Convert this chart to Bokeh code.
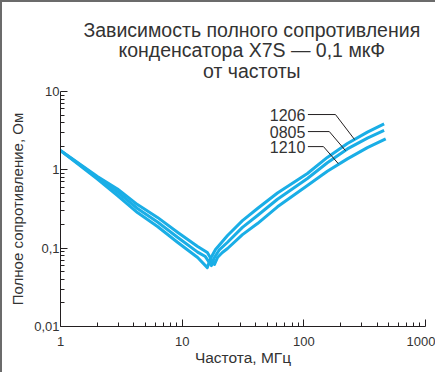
from bokeh.plotting import figure
from bokeh.models import Range1d, FixedTicker
from bokeh.layouts import column
from bokeh.core.properties import value
from bokeh.embed import file_html
from bokeh.resources import INLINE

# ---- data ----
freq_1206 = [1.0, 2.01, 2.94, 4.29, 6.27, 9.15, 13.4, 16.1, 17.1, 18.8, 23.6, 31.3, 41.6, 60.7, 107, 156, 228, 333, 457]
z_1206 = [1.76, 0.763, 0.470, 0.285, 0.189, 0.119, 0.0759, 0.0565, 0.0736, 0.0960, 0.145, 0.225, 0.321, 0.506, 0.897, 1.44, 2.17, 3.03, 3.87]

freq_0805 = [1.0, 2.01, 2.94, 4.29, 6.27, 9.15, 13.4, 15.5, 17.4, 18.4, 20.3, 23.6, 31.3, 41.6, 60.7, 107, 156, 228, 333, 457]
z_0805 = [1.76, 0.798, 0.521, 0.321, 0.216, 0.138, 0.0891, 0.0781, 0.0600, 0.0759, 0.0960, 0.119, 0.184, 0.261, 0.421, 0.774, 1.23, 1.85, 2.54, 3.18]

freq_1210 = [1.0, 2.01, 2.94, 4.29, 6.27, 9.15, 13.4, 16.1, 18.4, 19.5, 21.4, 23.6, 31.3, 41.6, 60.7, 107, 156, 228, 333, 471]
z_1210 = [1.76, 0.821, 0.569, 0.360, 0.247, 0.160, 0.105, 0.0879, 0.0618, 0.0759, 0.0879, 0.0990, 0.149, 0.206, 0.337, 0.630, 0.96, 1.38, 1.92, 2.49]

series_names = ["1206", "0805", "1210"]
label_text_f = [103, 103, 103]
label_z = [5.08, 3.08, 1.98]
leader_start_f = [108, 108, 108]
elbow_f = [182, 162, 145]
tip_f = [261, 220, 192]
tip_z = [2.44, 1.76, 1.20]

x_ticks = [1, 10, 100, 1000]
x_tick_labels = ["1", "10", "100", "1000"]
y_ticks = [0.01, 0.1, 1, 10]
y_tick_labels = ["0,01", "0,1", "1", "10"]

title_lines = ["Зависимость полного сопротивления", "конденсатора X7S — 0,1 мкФ", "от частоты"]
x_label = "Частота, МГц"
y_label = "Полное сопротивление, Ом"

# ---- styling ----
FONT = "Liberation Sans"
INK = "#231f20"
CURVE = "#1aaee6"
FRAME = "2px solid #6b6b6b"
W = 435
TITLE_H = 81

# title strip (a bare figure whose frame is the whole canvas, in pixel units)
t = figure(width=W, height=TITLE_H, x_range=Range1d(0, W), y_range=Range1d(TITLE_H, 0),
           x_axis_location=None, y_axis_location=None,
           output_backend="svg", toolbar_location=None, min_border=0)
t.grid.visible = False
t.outline_line_color = None
t.styles = {"border-top": FRAME, "border-left": FRAME}
t.text(x=[228] * len(title_lines), y=[27.5 + 20.3 * i for i in range(len(title_lines))], text=title_lines,
       text_align="center", text_baseline="middle", text_font=value(FONT),
       text_font_size="19.5px", text_color="#333333")

p = figure(width=W, height=372 - TITLE_H, x_axis_type="log", y_axis_type="log",
           x_range=Range1d(1, 1000), y_range=Range1d(0.01, 10),
           output_backend="svg", toolbar_location=None,
           min_border_left=58, min_border_right=12, min_border_top=91 - TITLE_H, min_border_bottom=46)
p.styles = {"border-left": FRAME}
p.grid.visible = False
p.outline_line_color = None
p.background_fill_color = "white"
p.border_fill_color = "white"

def minors(majors):
    out = []
    for m in majors[:-1]:
        out += [m * k for k in range(2, 10)]
    return out

p.xaxis.ticker = FixedTicker(ticks=x_ticks, minor_ticks=minors(x_ticks))
p.yaxis.ticker = FixedTicker(ticks=y_ticks, minor_ticks=minors(y_ticks))
p.xaxis.major_label_overrides = {t_: s for t_, s in zip(x_ticks, x_tick_labels)}
p.yaxis.major_label_overrides = {t_: s for t_, s in zip(y_ticks, y_tick_labels)}

for ax in (p.xaxis, p.yaxis):
    ax.major_tick_in = 7
    ax.major_tick_out = 0
    ax.minor_tick_in = 4
    ax.minor_tick_out = 0
    ax.axis_line_color = INK
    ax.major_tick_line_color = INK
    ax.minor_tick_line_color = INK
    ax.major_label_text_font = FONT
    ax.major_label_text_font_size = "13px"
    ax.major_label_text_color = "#333333"
    ax.axis_label_text_font = FONT
    ax.axis_label_text_font_style = "normal"
    ax.axis_label_text_color = "#333333"

p.xaxis.axis_label = x_label
p.yaxis.axis_label = y_label
p.xaxis.axis_label_text_font_size = "15.5px"
p.yaxis.axis_label_text_font_size = "15px"
p.xaxis.major_label_standoff = 10
p.xaxis.axis_label_standoff = 0
p.yaxis.major_label_standoff = 1
p.yaxis.axis_label_standoff = 5

for f, z in ((freq_1206, z_1206), (freq_0805, z_0805), (freq_1210, z_1210)):
    p.line(f, z, line_color=CURVE, line_width=3, line_join="round")

# leader lines and labels
for name, lz, sf, ef, pf, pz in zip(series_names, label_z, leader_start_f, elbow_f, tip_f, tip_z):
    p.line([sf, ef, pf], [lz, lz, pz], line_color=INK, line_width=1)
p.text(x=label_text_f, y=label_z, text=series_names, text_align="right", text_baseline="middle",
       text_font=value(FONT), text_font_size="16px", text_color="#333333")

layout = column(t, p, spacing=0)
open("out.html", "w").write(file_html(layout, INLINE))
